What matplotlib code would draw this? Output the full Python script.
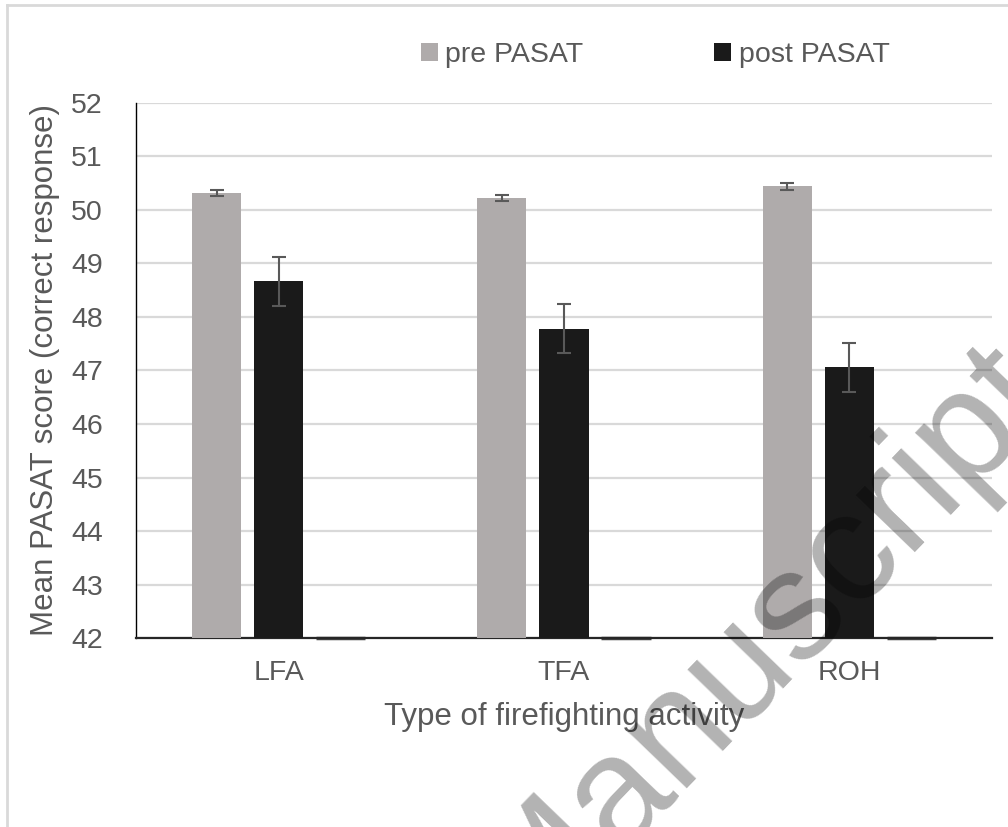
import matplotlib.pyplot as plt
from matplotlib.lines import Line2D
import numpy as np

plt.rcParams['font.family'] = ['Liberation Sans', 'DejaVu Sans']

# data
activities = ['LFA', 'TFA', 'ROH']
pre_pasat = [50.32, 50.22, 50.44]
pre_err = [0.06, 0.06, 0.06]
post_pasat = [48.67, 47.78, 47.06]
post_err = [0.46, 0.46, 0.46]
third = [0, 0, 0]   # empty series, shows as a flat line on the axis

txt = '#595959'

fig = plt.figure(figsize=(10.08, 8.27), dpi=100)
ax = fig.add_axes([0.135, 0.2285, 0.849, 0.647])

x = np.arange(len(activities))
w = 0.172
step = 0.2175

ax.bar(x - step, pre_pasat, w, color='#AFABAB', label='pre PASAT',
       yerr=pre_err, error_kw=dict(ecolor='#595959', elinewidth=1.5, capsize=5, capthick=1.5),
       zorder=3)
ax.bar(x, post_pasat, w, color='#1A1A1A', label='post PASAT',
       yerr=post_err, error_kw=dict(ecolor='#595959', elinewidth=1.5, capsize=5, capthick=1.5),
       zorder=3)
ax.bar(x + step, third, w, bottom=42, color='none', edgecolor='#404040', linewidth=2.5,
       zorder=2, clip_on=False)

ax.set_ylim(42, 52)
ax.set_xlim(-0.5, 2.5)
ax.set_yticks(range(42, 53))
ax.set_xticks(x)
ax.set_xticklabels(activities)
ax.tick_params(axis='both', length=0, labelsize=20.5, colors=txt)
ax.tick_params(axis='y', pad=24)
ax.tick_params(axis='x', pad=16)
ax.yaxis.grid(True, color='#D9D9D9', linewidth=1.6, zorder=0)
ax.set_axisbelow(True)

for s in ['top', 'right']:
    ax.spines[s].set_visible(False)
ax.spines['left'].set_color('#000000')
ax.spines['left'].set_linewidth(1.0)
ax.spines['bottom'].set_color('#262626')
ax.spines['bottom'].set_linewidth(1.6)

ax.set_ylabel('Mean PASAT score (correct response)', fontsize=22.5, color=txt, labelpad=8)
ax.set_xlabel('Type of firefighting activity', fontsize=22.5, color=txt, labelpad=11)

fig.legend(loc='center', bbox_to_anchor=(0.65, 0.933), ncol=2, frameon=False,
           fontsize=20.5, labelcolor=txt, handlelength=0.6, handleheight=0.6,
           handletextpad=0.25, columnspacing=4.6)

# chart border (left and top edges)
fig.add_artist(Line2D([0.007, 0.007], [0, 0.994], color='#D9D9D9', linewidth=2))
fig.add_artist(Line2D([0.007, 1.0], [0.994, 0.994], color='#D9D9D9', linewidth=2))

# watermark
fig.text(0.755, 0.226, 'Manuscript', fontsize=112, rotation=46, rotation_mode='anchor',
         ha='center', va='center', color='black', alpha=0.3, zorder=10)

fig.savefig('out.png', dpi=100)
